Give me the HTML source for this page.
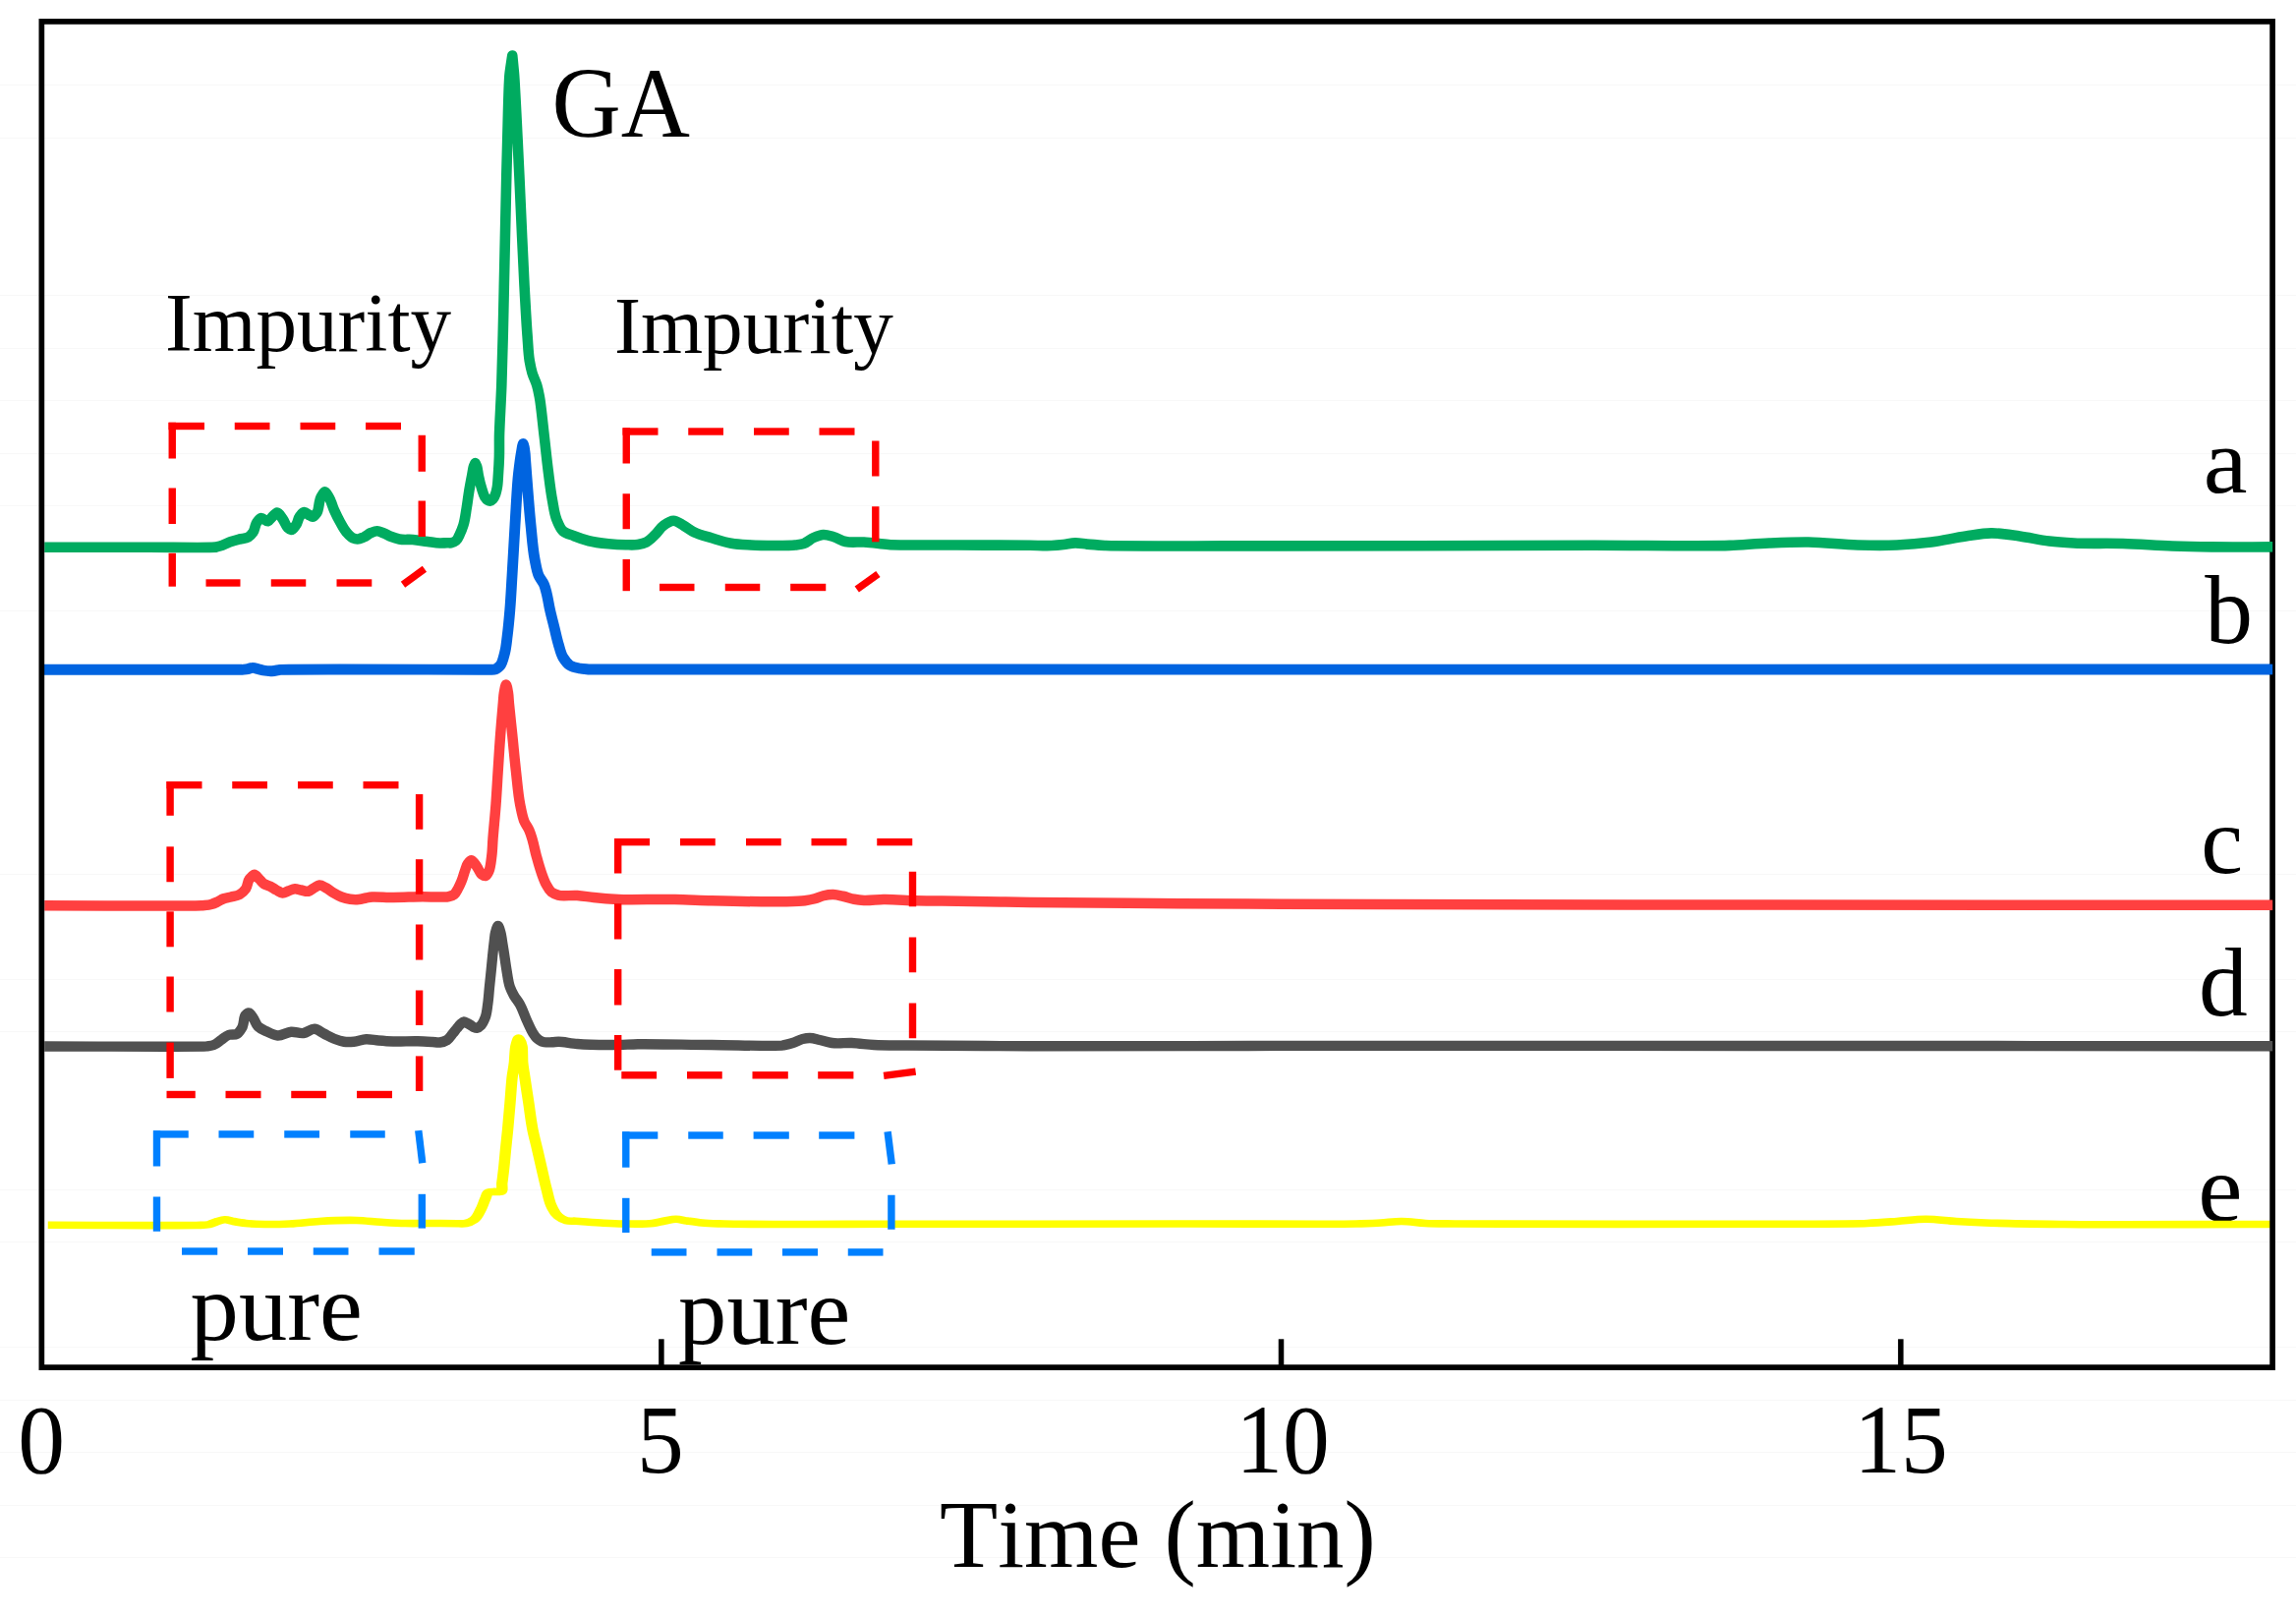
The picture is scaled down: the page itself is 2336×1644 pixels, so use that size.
<!DOCTYPE html>
<html><head><meta charset="utf-8"><title>HPLC chromatograms</title>
<style>
html,body{margin:0;padding:0;background:#fff;}
body{width:2336px;height:1644px;overflow:hidden;}
svg{display:block;}
text{font-family:"Liberation Serif","Times New Roman",serif;fill:#000;font-kerning:none;}
</style></head><body>
<svg width="2336" height="1644" viewBox="0 0 2336 1644">
<rect x="0" y="0" width="2336" height="1644" fill="#ffffff"/>
<g id="grid"><rect x="0" y="86.0" width="2336" height="1" fill="#f8f8f8"/>
<rect x="0" y="140.0" width="2336" height="1" fill="#f8f8f8"/>
<rect x="0" y="300.0" width="2336" height="1" fill="#f8f8f8"/>
<rect x="0" y="354.0" width="2336" height="1" fill="#f8f8f8"/>
<rect x="0" y="407.0" width="2336" height="1" fill="#f8f8f8"/>
<rect x="0" y="461.0" width="2336" height="1" fill="#f8f8f8"/>
<rect x="0" y="514.0" width="2336" height="1" fill="#f8f8f8"/>
<rect x="0" y="621.0" width="2336" height="1" fill="#f8f8f8"/>
<rect x="0" y="889.0" width="2336" height="1" fill="#f8f8f8"/>
<rect x="0" y="996.0" width="2336" height="1" fill="#f8f8f8"/>
<rect x="0" y="1049.0" width="2336" height="1" fill="#f8f8f8"/>
<rect x="0" y="1210.0" width="2336" height="1" fill="#f8f8f8"/>
<rect x="0" y="1263.0" width="2336" height="1" fill="#f8f8f8"/>
<rect x="0" y="1370.0" width="2336" height="1" fill="#f8f8f8"/>
<rect x="0" y="1424.0" width="2336" height="1" fill="#f8f8f8"/>
<rect x="0" y="1477.0" width="2336" height="1" fill="#f8f8f8"/>
<rect x="0" y="1531.0" width="2336" height="1" fill="#f8f8f8"/>
<rect x="0" y="1584.0" width="2336" height="1" fill="#f8f8f8"/></g>
<g id="masks"></g>
<g id="ticks"><rect x="670.15" y="1362.3" width="5.5" height="27" fill="#000"/>
<rect x="1300.75" y="1362.3" width="5.5" height="27" fill="#000"/>
<rect x="1931.10" y="1362.3" width="5.5" height="27" fill="#000"/></g>
<g id="texts"><text transform="translate(561.40,138.80) scale(0.9680,1)" font-size="100.50px" text-anchor="start">GA</text>
<text transform="translate(168.00,357.10) scale(0.9880,1)" font-size="84.20px" text-anchor="start">Impurity</text>
<text transform="translate(624.90,359.00) scale(0.9900,1)" font-size="82.00px" text-anchor="start">Impurity</text>
<text transform="translate(193.60,1362.50) scale(1.0220,1)" font-size="96.50px" text-anchor="start">pure</text>
<text transform="translate(690.10,1367.00) scale(1.0220,1)" font-size="96.50px" text-anchor="start">pure</text>
<text transform="translate(2241.70,500.60) scale(1.0500,1)" font-size="96.00px" text-anchor="start">a</text>
<text transform="translate(2243.20,653.70) scale(0.9900,1)" font-size="98.50px" text-anchor="start">b</text>
<text transform="translate(2239.30,887.50) scale(1.0000,1)" font-size="96.30px" text-anchor="start">c</text>
<text transform="translate(2237.10,1033.30) scale(1.0000,1)" font-size="99.50px" text-anchor="start">d</text>
<text transform="translate(2236.30,1241.70) scale(1.0400,1)" font-size="98.00px" text-anchor="start">e</text>
<text transform="translate(42.10,1498.30) scale(0.9650,1)" font-size="99.00px" text-anchor="middle">0</text>
<text transform="translate(671.80,1498.30) scale(0.9650,1)" font-size="99.00px" text-anchor="middle">5</text>
<text transform="translate(1305.10,1498.30) scale(0.9650,1)" font-size="99.00px" text-anchor="middle">10</text>
<text transform="translate(1933.90,1498.30) scale(0.9650,1)" font-size="99.00px" text-anchor="middle">15</text>
<text transform="translate(956.00,1593.75) scale(0.9915,1)" font-size="97.70px" text-anchor="start">Time (min)</text></g>
<g id="boxes-under"></g>
<g id="curves"><g transform="scale(1.0000,1)"><path d="M45.25,556.75C80.17,556.75 115.08,556.82 150.00,556.75C173.33,556.70 216.66,557.36 220.00,556.50C222.09,555.97 224.21,555.44 226.25,554.75C229.25,553.73 232.01,552.06 235.00,551.00C237.85,549.99 240.81,549.25 243.75,548.50C246.65,547.76 250.03,547.98 252.50,546.50C254.44,545.34 256.17,543.38 257.50,541.50C259.51,538.66 259.39,534.15 261.25,531.50C262.41,529.84 263.88,527.45 265.50,527.00C267.52,526.44 270.44,530.68 272.50,530.25C274.39,529.85 275.75,526.83 277.50,525.25C278.95,523.94 280.59,521.63 282.00,521.50C284.01,521.32 285.87,525.52 287.50,527.75C289.47,530.45 290.75,534.93 292.50,536.50C293.59,537.48 295.07,538.90 296.25,539.00C298.10,539.15 299.90,535.88 301.25,534.00C303.07,531.47 303.11,527.72 305.00,525.25C306.23,523.64 307.86,521.14 309.50,521.00C311.04,520.87 312.79,523.08 314.50,524.00C315.65,524.62 316.92,525.74 318.00,525.75C319.71,525.77 321.29,523.08 322.50,521.50C324.44,518.97 324.41,510.02 326.25,506.50C327.40,504.30 329.06,500.29 330.50,500.25C331.97,500.21 333.70,504.31 335.00,506.50C337.08,510.01 338.17,514.91 340.00,519.00C341.90,523.25 343.96,527.45 346.25,531.50C348.18,534.92 349.95,538.56 352.50,541.50C354.34,543.62 356.33,546.13 358.75,547.25C360.26,547.95 362.10,548.50 363.75,548.50C365.86,548.50 368.01,547.36 370.00,546.50C372.66,545.35 374.82,543.09 377.50,542.00C379.49,541.19 381.68,540.22 383.75,540.25C385.84,540.28 387.96,541.47 390.00,542.25C392.57,543.23 394.94,544.74 397.50,545.75C400.34,546.86 403.28,547.91 406.25,548.50C410.71,549.39 415.43,548.62 420.00,549.00C425.02,549.41 430.00,550.37 435.00,551.00C439.16,551.52 443.51,552.41 447.50,552.50C449.99,552.56 452.87,552.26 455.00,552.25C456.33,552.25 457.72,552.52 459.00,552.30C460.76,551.99 462.64,551.10 464.00,550.00C465.99,548.39 466.83,545.41 468.00,543.00C469.40,540.11 470.54,537.06 471.50,534.00C473.04,529.11 473.75,522.69 474.70,517.00C475.69,511.12 476.32,505.18 477.30,499.30C478.26,493.52 479.76,485.84 480.50,482.00C480.96,479.60 481.20,476.87 481.90,474.80C482.34,473.50 482.95,471.01 483.50,471.00C484.05,470.99 484.73,473.50 485.20,474.80C485.94,476.88 486.19,480.75 486.80,483.70C487.77,488.38 488.92,493.34 490.30,497.60C491.16,500.27 491.94,503.60 493.20,505.50C493.99,506.69 494.80,508.08 496.00,508.80C496.76,509.26 497.78,509.75 498.60,509.70C499.69,509.63 500.77,508.45 501.60,507.60C502.89,506.27 503.52,504.27 504.20,502.50C504.99,500.43 505.38,498.18 505.80,496.00C506.48,492.50 506.67,486.67 507.00,482.00C507.41,476.24 507.72,470.47 507.90,464.70C508.11,457.81 507.89,450.90 508.00,444.00C508.18,432.96 509.68,409.34 510.30,392.00C510.90,375.34 511.28,358.67 511.70,342.00C512.12,325.33 512.43,308.67 512.80,292.00C513.17,275.33 513.53,258.67 513.90,242.00C514.50,215.33 515.21,176.49 516.20,143.75C516.89,120.83 517.41,84.89 518.60,75.00C519.34,68.82 520.37,62.67 521.25,56.50C521.83,62.67 522.47,68.83 523.00,75.00C523.85,84.87 525.54,120.83 526.70,143.75C528.35,176.49 529.94,215.33 531.20,242.00C531.99,258.67 532.70,275.34 533.60,292.00C534.50,308.67 535.57,328.66 536.60,342.00C537.24,350.34 537.58,360.29 538.75,367.00C539.48,371.20 540.29,375.42 541.50,379.50C542.76,383.76 544.99,387.74 546.25,392.00C547.46,396.08 548.18,400.32 549.00,404.50C550.31,411.19 552.21,430.83 553.75,444.00C555.12,455.66 556.25,467.35 557.75,479.00C559.04,489.02 560.11,499.09 562.00,509.00C563.28,515.71 563.88,522.76 566.50,529.00C568.14,532.92 569.73,537.53 572.75,540.25C575.64,542.86 580.19,543.74 584.00,545.25C588.90,547.18 593.91,548.97 599.00,550.25C605.51,551.89 612.30,552.58 619.00,553.25C624.81,553.83 630.66,554.18 636.50,554.25C640.66,554.30 644.93,554.70 649.00,554.00C651.97,553.49 655.10,552.84 657.75,551.50C661.10,549.81 663.73,546.65 666.50,544.00C669.60,541.03 671.81,536.96 675.25,534.50C678.20,532.39 681.92,529.75 685.25,529.75C688.58,529.75 692.01,532.75 695.25,534.50C699.13,536.59 702.56,539.57 706.50,541.50C711.97,544.19 718.13,545.47 724.00,547.25C730.61,549.26 737.22,551.54 744.00,552.75C750.56,553.92 757.33,554.10 764.00,554.50C774.68,555.15 804.32,555.17 809.00,554.50C811.92,554.08 815.00,553.94 817.75,553.00C821.37,551.76 824.21,548.53 827.75,547.00C830.92,545.63 834.38,544.15 837.75,544.00C841.05,543.85 844.49,545.08 847.75,546.00C852.05,547.22 855.95,549.98 860.25,551.00C866.24,552.42 872.76,551.14 879.00,551.50C887.36,551.98 895.66,553.37 904.00,554.00C917.35,555.01 950.67,554.38 974.00,554.50C998.67,554.63 1036.27,554.64 1048.00,554.75C1055.33,554.82 1063.59,555.32 1070.00,555.00C1074.00,554.80 1078.01,554.43 1082.00,554.00C1086.01,553.57 1089.99,552.47 1094.00,552.40C1097.99,552.34 1102.00,553.24 1106.00,553.60C1112.32,554.17 1118.66,554.58 1125.00,555.00C1135.14,555.68 1241.67,555.35 1300.00,555.40C1393.33,555.48 1548.40,554.80 1622.00,554.80C1668.00,554.80 1738.66,555.89 1760.00,554.90C1773.34,554.28 1786.66,553.07 1800.00,552.50C1813.32,551.93 1826.68,551.33 1840.00,551.50C1856.68,551.71 1873.32,554.06 1890.00,554.50C1903.32,554.85 1916.69,555.11 1930.00,554.50C1941.69,553.97 1953.40,552.99 1965.00,551.50C1976.73,550.00 1988.28,547.16 2000.00,545.50C2008.64,544.28 2017.33,542.51 2026.00,542.40C2035.66,542.28 2045.37,544.19 2055.00,545.50C2065.04,546.87 2074.94,549.30 2085.00,550.50C2093.29,551.49 2101.66,552.03 2110.00,552.50C2123.35,553.26 2143.34,552.50 2160.00,553.00C2176.68,553.50 2193.32,554.92 2210.00,555.50C2223.33,555.96 2236.67,556.22 2250.00,556.40C2270.80,556.69 2291.60,556.40 2312.40,556.40" fill="none" stroke="#00AB60" stroke-width="10.60" stroke-linecap="butt" stroke-linejoin="round"/></g>
<g transform="scale(1.0000,1)"><path d="M45.00,681.20C112.00,681.23 242.80,681.66 246.00,681.30C248.00,681.07 250.02,680.96 252.00,680.60C253.68,680.29 255.33,679.45 257.00,679.40C258.99,679.34 261.01,680.22 263.00,680.70C264.67,681.10 266.31,681.68 268.00,682.00C270.70,682.52 273.75,682.82 276.60,682.70C279.41,682.58 282.20,681.75 285.00,681.30C289.48,680.58 493.27,681.41 497.00,681.20C499.33,681.07 501.92,681.61 504.00,680.80C505.87,680.08 507.64,678.49 509.00,677.00C511.18,674.62 512.44,668.43 513.60,664.00C515.08,658.35 515.45,652.41 516.20,646.60C517.32,637.96 518.07,629.28 518.80,620.60C519.77,609.09 520.29,597.53 521.00,586.00C522.06,568.67 522.92,551.33 524.00,534.00C525.08,516.66 526.14,493.76 527.50,482.00C528.35,474.65 529.63,464.55 530.50,460.00C531.04,457.16 531.72,451.49 532.30,451.50C532.88,451.51 533.62,457.14 534.00,460.00C534.36,462.65 534.40,465.33 534.60,468.00C534.92,472.27 536.15,488.87 537.00,499.30C537.94,510.87 538.83,522.45 540.00,534.00C541.17,545.55 542.11,559.25 544.00,568.60C545.18,574.45 546.06,581.19 548.30,586.00C549.70,589.01 552.17,591.55 553.50,594.60C554.70,597.35 555.32,600.38 556.10,603.30C557.34,607.98 558.31,614.86 559.60,620.60C560.91,626.43 562.46,632.20 563.90,638.00C565.33,643.77 566.47,649.62 568.20,655.30C569.61,659.92 570.48,664.97 573.00,669.00C574.84,671.95 577.13,675.17 580.00,677.00C582.82,678.80 586.60,679.33 590.00,680.00C593.27,680.64 596.67,680.67 600.00,681.00C605.33,681.53 1741.60,681.00 2312.40,681.00" fill="none" stroke="#0064E0" stroke-width="10.90" stroke-linecap="butt" stroke-linejoin="round"/></g>
<g transform="scale(1.0000,1)"><path d="M45.25,921.25C98.50,921.25 199.66,921.88 205.00,921.25C208.33,920.86 211.80,920.91 215.00,920.00C217.14,919.39 219.21,918.43 221.25,917.50C223.38,916.52 225.32,915.07 227.50,914.25C229.88,913.35 232.51,913.14 235.00,912.50C237.94,911.74 241.19,911.46 243.75,910.00C246.14,908.63 248.40,906.49 250.00,904.25C252.01,901.43 251.64,897.00 253.75,894.25C255.08,892.52 257.08,889.75 258.75,889.75C260.42,889.75 262.12,892.71 263.75,894.25C265.46,895.87 266.82,897.99 268.75,899.25C270.59,900.45 272.99,900.76 275.00,901.75C277.17,902.82 279.11,904.35 281.25,905.50C283.28,906.59 285.37,908.41 287.50,908.50C289.54,908.59 291.65,906.96 293.75,906.25C295.82,905.55 297.89,904.36 300.00,904.25C302.05,904.14 304.16,905.11 306.25,905.50C308.74,905.96 311.42,907.21 313.75,906.75C315.99,906.31 317.87,904.16 320.00,903.00C321.64,902.11 323.30,900.64 325.00,900.50C327.04,900.33 329.26,901.99 331.25,903.00C333.92,904.35 336.17,906.47 338.75,908.00C341.57,909.67 344.45,911.36 347.50,912.50C350.30,913.55 353.29,914.34 356.25,914.75C359.12,915.15 362.11,915.27 365.00,915.00C367.52,914.77 369.99,913.95 372.50,913.50C374.58,913.13 376.66,912.75 378.75,912.50C382.09,912.11 392.92,912.98 400.00,913.00C410.00,913.03 420.67,912.25 430.00,912.25C435.83,912.25 442.70,912.58 447.50,912.50C450.50,912.45 453.63,912.91 456.50,912.20C458.39,911.73 460.50,911.14 462.00,910.00C463.83,908.61 464.81,906.08 466.00,904.00C467.35,901.64 468.46,899.12 469.50,896.60C470.91,893.16 471.71,889.49 473.00,886.00C473.93,883.48 474.48,880.44 476.00,878.50C476.95,877.28 478.33,875.30 479.50,875.30C480.67,875.30 481.96,877.33 483.00,878.50C484.55,880.26 485.53,882.50 486.80,884.50C487.86,886.17 488.48,888.40 490.00,889.50C491.10,890.29 492.88,891.19 494.00,891.00C495.60,890.73 496.56,887.76 497.50,886.00C499.01,883.18 499.64,875.77 500.30,870.60C501.03,864.88 501.07,859.06 501.50,853.30C502.19,844.08 503.63,830.18 504.50,818.60C505.36,807.08 505.95,795.53 506.70,784.00C507.45,772.43 508.13,760.86 509.00,749.30C509.87,737.76 511.38,720.14 511.90,714.70C512.22,711.30 512.30,707.85 512.90,704.50C513.39,701.77 514.23,696.40 514.90,696.40C515.57,696.40 516.42,701.77 516.90,704.50C517.49,707.85 517.49,711.30 517.80,714.70C518.30,720.14 520.22,737.76 521.40,749.30C522.58,760.86 523.60,772.45 524.90,784.00C526.20,795.55 527.25,809.25 529.20,818.60C530.42,824.45 531.49,831.23 533.60,836.00C534.92,838.98 537.07,841.61 538.40,844.60C539.64,847.39 540.49,850.37 541.40,853.30C542.86,857.98 544.13,864.87 545.70,870.60C547.30,876.44 548.84,882.31 550.90,888.00C552.37,892.06 553.68,896.26 555.80,900.00C557.29,902.63 558.71,905.66 561.00,907.50C562.98,909.10 565.73,910.01 568.20,910.80C572.15,912.06 580.96,910.57 587.30,911.00C592.89,911.38 598.42,912.42 604.00,913.00C612.31,913.86 620.66,914.54 629.00,915.00C642.35,915.74 667.34,914.61 686.50,915.00C699.00,915.25 711.50,915.92 724.00,916.25C744.00,916.78 780.66,917.59 794.00,917.25C802.33,917.04 813.64,917.07 819.00,916.25C822.35,915.74 825.73,915.15 829.00,914.25C831.97,913.44 834.76,911.95 837.75,911.25C841.00,910.48 844.43,909.92 847.75,910.00C851.10,910.08 854.45,911.03 857.75,911.75C861.54,912.57 865.20,914.03 869.00,914.75C872.29,915.37 875.66,915.78 879.00,916.00C884.34,916.35 892.33,915.11 899.00,915.00C909.67,914.83 920.66,915.96 931.50,916.25C945.66,916.63 959.83,916.56 974.00,916.75C996.67,917.06 1023.33,917.66 1048.00,918.00C1087.47,918.55 1149.33,918.89 1200.00,919.20C1266.67,919.61 1333.33,919.79 1400.00,920.00C1506.67,920.33 1666.67,920.37 1800.00,920.50C1970.80,920.66 2141.60,920.70 2312.40,920.80" fill="none" stroke="#FF4040" stroke-width="10.50" stroke-linecap="butt" stroke-linejoin="round"/></g>
<g transform="scale(1.0000,1)"><path d="M45.25,1064.50C100.17,1064.50 206.00,1065.26 210.00,1064.50C212.50,1064.02 215.17,1063.92 217.50,1063.00C220.24,1061.92 222.50,1059.67 225.00,1058.00C227.50,1056.33 229.76,1054.04 232.50,1053.00C235.19,1051.98 238.90,1053.16 241.25,1051.75C243.38,1050.48 244.96,1047.77 246.25,1045.50C248.31,1041.86 247.96,1034.55 249.50,1033.00C250.47,1032.03 251.91,1030.59 253.00,1030.50C254.70,1030.36 256.16,1033.72 257.50,1035.50C259.51,1038.16 260.21,1041.96 262.50,1044.25C264.79,1046.54 268.23,1047.80 271.25,1049.25C274.85,1050.98 278.70,1053.21 282.50,1053.50C287.01,1053.84 291.59,1050.08 296.25,1049.75C300.36,1049.46 304.71,1051.55 308.75,1051.00C312.62,1050.47 316.34,1046.50 320.00,1046.75C323.41,1046.98 326.67,1050.08 330.00,1051.75C333.33,1053.42 336.54,1055.39 340.00,1056.75C343.23,1058.02 346.59,1059.26 350.00,1059.75C353.26,1060.22 356.70,1060.04 360.00,1059.75C364.21,1059.38 368.30,1057.45 372.50,1057.25C376.64,1057.05 380.83,1058.15 385.00,1058.50C389.99,1058.92 395.00,1059.31 400.00,1059.50C408.01,1059.80 417.00,1059.03 425.00,1059.25C430.00,1059.39 436.00,1059.76 440.00,1060.00C442.50,1060.15 445.06,1060.80 447.50,1060.50C450.07,1060.18 452.86,1059.37 455.00,1058.00C457.49,1056.40 459.05,1053.37 461.00,1051.00C462.36,1049.35 463.63,1047.63 465.00,1046.00C466.14,1044.64 467.18,1043.17 468.50,1042.00C469.57,1041.06 470.75,1039.59 472.00,1039.50C473.10,1039.42 474.36,1040.44 475.50,1041.00C476.70,1041.60 477.86,1042.29 479.00,1043.00C480.02,1043.63 480.92,1044.52 482.00,1045.00C483.06,1045.47 484.34,1046.00 485.40,1045.90C486.91,1045.75 488.34,1044.15 489.50,1043.00C491.35,1041.16 492.63,1037.92 493.70,1035.20C495.41,1030.86 495.62,1025.96 496.30,1021.30C497.14,1015.57 497.42,1009.77 498.00,1004.00C498.59,998.20 499.21,992.40 499.80,986.60C500.38,980.83 500.88,975.06 501.50,969.30C501.91,965.53 502.32,961.76 502.80,958.00C503.20,954.83 503.23,951.55 504.10,948.50C504.73,946.27 505.83,942.00 506.70,942.00C507.57,942.00 508.62,946.28 509.30,948.50C510.23,951.56 510.46,954.83 511.00,958.00C511.64,961.76 512.21,965.53 512.80,969.30C513.70,975.06 514.41,980.85 515.40,986.60C516.40,992.42 517.07,999.28 518.80,1004.00C519.88,1006.95 521.26,1009.85 522.80,1012.60C524.51,1015.65 526.94,1018.29 528.70,1021.30C531.52,1026.12 533.54,1032.91 536.20,1038.60C538.12,1042.70 540.34,1047.93 542.20,1050.80C543.36,1052.60 544.47,1054.54 546.00,1056.00C547.44,1057.37 549.21,1058.62 551.00,1059.40C553.87,1060.65 557.86,1060.33 561.30,1060.30C563.60,1060.28 565.90,1059.85 568.20,1059.80C571.88,1059.72 580.92,1061.46 587.30,1062.00C597.51,1062.87 611.77,1063.08 624.00,1063.00C632.33,1062.94 640.67,1062.42 649.00,1062.25C662.33,1061.98 699.00,1062.79 724.00,1063.00C748.17,1063.20 791.15,1064.66 796.50,1063.50C799.85,1062.77 803.24,1062.05 806.50,1061.00C809.91,1059.90 813.03,1057.83 816.50,1057.00C818.93,1056.42 821.51,1055.98 824.00,1056.00C827.35,1056.03 830.68,1057.28 834.00,1058.00C838.19,1058.91 842.29,1060.39 846.50,1061.00C853.05,1061.95 859.85,1060.72 866.50,1061.00C874.02,1061.31 881.49,1062.55 889.00,1063.00C900.64,1063.69 912.33,1063.35 924.00,1063.50C942.67,1063.73 1006.67,1064.10 1048.00,1064.25C1114.13,1064.49 1216.00,1063.97 1300.00,1063.90C1407.33,1063.82 1514.67,1063.89 1622.00,1063.90C1793.73,1063.92 2082.27,1064.10 2312.40,1064.20" fill="none" stroke="#505050" stroke-width="10.40" stroke-linecap="butt" stroke-linejoin="round"/></g>
<g transform="scale(1.5000,1)"><path d="M32.50,1246.25C66.11,1246.33 128.89,1246.87 133.33,1246.50C136.11,1246.27 139.08,1246.62 141.67,1245.75C143.73,1245.06 145.47,1243.39 147.50,1242.50C149.11,1241.79 150.82,1240.83 152.50,1240.75C154.43,1240.66 156.38,1241.96 158.33,1242.50C161.09,1243.26 163.86,1244.01 166.67,1244.50C171.04,1245.26 175.55,1245.37 180.00,1245.50C185.55,1245.66 191.13,1245.40 196.67,1245.00C203.36,1244.51 209.98,1243.08 216.67,1242.50C224.97,1241.78 233.36,1241.11 241.67,1241.50C247.23,1241.76 252.77,1242.75 258.33,1243.25C263.88,1243.75 269.44,1244.29 275.00,1244.50C280.55,1244.71 286.11,1244.46 291.67,1244.50C297.78,1244.54 308.22,1244.68 310.00,1244.75C311.11,1244.79 312.23,1244.97 313.33,1244.90C314.25,1244.85 315.20,1244.75 316.07,1244.50C317.45,1244.11 320.06,1242.32 321.53,1240.80C323.90,1238.36 324.80,1234.09 326.07,1230.60C327.44,1226.83 328.27,1222.22 329.33,1219.00C330.00,1216.99 329.92,1213.95 331.47,1213.00C332.43,1212.41 334.04,1212.51 335.33,1212.40C336.77,1212.28 338.65,1212.87 339.67,1212.40C341.30,1211.65 340.26,1206.40 340.53,1203.40C340.95,1198.87 341.32,1194.34 341.67,1189.80C342.19,1182.97 342.54,1176.13 343.00,1169.30C343.45,1162.50 343.96,1155.70 344.40,1148.90C344.98,1139.84 345.48,1130.77 346.00,1121.70C346.52,1112.63 346.90,1101.82 347.53,1094.50C347.93,1089.93 348.62,1085.38 348.93,1080.80C349.13,1077.87 349.16,1074.93 349.33,1072.00C349.48,1069.50 349.50,1066.97 349.87,1064.50C350.30,1061.63 351.23,1056.01 351.93,1056.00C352.63,1055.99 353.68,1061.62 354.07,1064.50C354.40,1066.97 354.27,1069.50 354.33,1072.00C354.41,1074.93 354.33,1077.87 354.47,1080.80C354.68,1085.38 355.35,1089.93 355.80,1094.50C356.52,1101.81 357.62,1112.63 358.53,1121.70C359.44,1130.77 360.07,1139.87 361.27,1148.90C362.17,1155.72 363.41,1162.50 364.47,1169.30C365.52,1176.13 366.54,1182.97 367.60,1189.80C368.65,1196.60 369.58,1203.43 370.80,1210.20C371.86,1216.12 372.47,1222.69 374.33,1227.90C375.50,1231.16 376.46,1234.82 378.67,1237.40C380.15,1239.13 382.04,1241.03 384.13,1241.80C386.02,1242.50 388.36,1242.04 390.47,1242.20C393.84,1242.45 403.03,1243.70 409.33,1244.20C413.77,1244.55 418.22,1244.88 422.67,1245.00C429.33,1245.17 438.16,1245.46 442.67,1244.50C445.48,1243.90 448.20,1242.74 451.00,1242.00C453.48,1241.34 456.00,1240.25 458.50,1240.25C461.00,1240.25 463.49,1241.45 466.00,1242.00C469.32,1242.73 472.64,1243.51 476.00,1244.00C480.95,1244.72 486.00,1244.74 491.00,1245.00C499.00,1245.42 518.78,1245.42 532.67,1245.50C554.89,1245.63 577.11,1245.30 599.33,1245.25C632.44,1245.18 665.56,1245.29 698.67,1245.25C732.44,1245.21 766.22,1245.05 800.00,1245.00C840.00,1244.95 911.11,1245.47 920.00,1245.00C925.56,1244.71 931.12,1244.48 936.67,1244.00C941.30,1243.60 945.91,1242.50 950.53,1242.50C955.92,1242.49 961.27,1244.07 966.67,1244.50C973.31,1245.03 980.00,1244.85 986.67,1245.00C997.33,1245.25 1164.44,1245.61 1200.00,1245.30C1222.22,1245.10 1255.99,1245.35 1266.67,1244.50C1273.34,1243.97 1280.00,1243.21 1286.67,1242.50C1293.20,1241.81 1299.73,1240.33 1306.27,1240.30C1313.07,1240.27 1319.86,1241.88 1326.67,1242.50C1333.32,1243.11 1340.00,1243.59 1346.67,1244.00C1357.34,1244.66 1382.22,1245.14 1400.00,1245.50C1428.45,1246.08 1493.33,1245.50 1540.00,1245.50" fill="none" stroke="#FFFF00" stroke-width="7.60" stroke-linecap="butt" stroke-linejoin="round"/></g></g>
<g id="boxes-over"><rect x="171.50" y="429.80" width="36.50" height="7.40" fill="#FF0000"/>
<rect x="238.75" y="429.80" width="35.75" height="7.40" fill="#FF0000"/>
<rect x="305.50" y="429.80" width="35.75" height="7.40" fill="#FF0000"/>
<rect x="372.00" y="429.80" width="36.00" height="7.40" fill="#FF0000"/>
<rect x="425.55" y="442.75" width="7.40" height="37.00" fill="#FF0000"/>
<rect x="425.55" y="509.50" width="7.40" height="36.50" fill="#FF0000"/>
<rect x="171.55" y="429.75" width="7.40" height="36.75" fill="#FF0000"/>
<rect x="171.55" y="496.50" width="7.40" height="36.50" fill="#FF0000"/>
<rect x="171.55" y="562.75" width="7.40" height="33.95" fill="#FF0000"/>
<rect x="209.50" y="589.30" width="35.00" height="7.40" fill="#FF0000"/>
<rect x="275.75" y="589.30" width="35.50" height="7.40" fill="#FF0000"/>
<rect x="342.50" y="589.30" width="35.80" height="7.40" fill="#FF0000"/>
<line x1="431.90" y1="578.75" x2="410.00" y2="594.75" stroke="#FF0000" stroke-width="7.40"/>
<rect x="633.50" y="435.30" width="36.00" height="7.40" fill="#FF0000"/>
<rect x="700.25" y="435.30" width="35.75" height="7.40" fill="#FF0000"/>
<rect x="767.00" y="435.30" width="35.75" height="7.40" fill="#FF0000"/>
<rect x="833.50" y="435.30" width="36.00" height="7.40" fill="#FF0000"/>
<rect x="887.10" y="448.50" width="7.40" height="36.00" fill="#FF0000"/>
<rect x="887.10" y="515.25" width="7.40" height="36.05" fill="#FF0000"/>
<rect x="633.55" y="435.25" width="7.40" height="36.25" fill="#FF0000"/>
<rect x="633.55" y="502.25" width="7.40" height="36.00" fill="#FF0000"/>
<rect x="633.55" y="569.00" width="7.40" height="32.20" fill="#FF0000"/>
<rect x="671.00" y="593.80" width="35.50" height="7.40" fill="#FF0000"/>
<rect x="737.75" y="593.80" width="35.50" height="7.40" fill="#FF0000"/>
<rect x="804.20" y="593.80" width="36.05" height="7.40" fill="#FF0000"/>
<line x1="893.40" y1="583.90" x2="871.75" y2="599.50" stroke="#FF0000" stroke-width="7.40"/>
<rect x="169.50" y="794.90" width="36.00" height="7.40" fill="#FF0000"/>
<rect x="236.25" y="794.90" width="35.75" height="7.40" fill="#FF0000"/>
<rect x="303.00" y="794.90" width="35.75" height="7.40" fill="#FF0000"/>
<rect x="369.50" y="794.90" width="36.00" height="7.40" fill="#FF0000"/>
<rect x="422.90" y="808.00" width="7.40" height="35.75" fill="#FF0000"/>
<rect x="422.90" y="874.20" width="7.40" height="35.55" fill="#FF0000"/>
<rect x="422.90" y="940.50" width="7.40" height="36.00" fill="#FF0000"/>
<rect x="422.90" y="1007.50" width="7.40" height="35.50" fill="#FF0000"/>
<rect x="422.90" y="1074.40" width="7.40" height="35.60" fill="#FF0000"/>
<rect x="169.40" y="795.00" width="7.40" height="34.75" fill="#FF0000"/>
<rect x="169.40" y="861.30" width="7.40" height="35.95" fill="#FF0000"/>
<rect x="169.40" y="927.30" width="7.40" height="36.00" fill="#FF0000"/>
<rect x="169.40" y="993.50" width="7.40" height="36.00" fill="#FF0000"/>
<rect x="169.40" y="1060.60" width="7.40" height="36.30" fill="#FF0000"/>
<rect x="169.50" y="1109.80" width="29.25" height="7.40" fill="#FF0000"/>
<rect x="229.50" y="1109.80" width="36.00" height="7.40" fill="#FF0000"/>
<rect x="296.25" y="1109.80" width="35.75" height="7.40" fill="#FF0000"/>
<rect x="363.00" y="1109.80" width="36.00" height="7.40" fill="#FF0000"/>
<rect x="625.25" y="852.90" width="35.75" height="7.40" fill="#FF0000"/>
<rect x="692.00" y="852.90" width="35.75" height="7.40" fill="#FF0000"/>
<rect x="759.00" y="852.90" width="35.75" height="7.40" fill="#FF0000"/>
<rect x="825.50" y="852.90" width="36.00" height="7.40" fill="#FF0000"/>
<rect x="892.25" y="852.90" width="36.00" height="7.40" fill="#FF0000"/>
<rect x="924.80" y="886.75" width="7.40" height="35.50" fill="#FF0000"/>
<rect x="924.80" y="953.50" width="7.40" height="35.75" fill="#FF0000"/>
<rect x="924.80" y="1020.50" width="7.40" height="35.75" fill="#FF0000"/>
<rect x="625.00" y="853.00" width="7.40" height="35.50" fill="#FF0000"/>
<rect x="625.00" y="919.25" width="7.40" height="36.25" fill="#FF0000"/>
<rect x="625.00" y="986.00" width="7.40" height="36.50" fill="#FF0000"/>
<rect x="625.00" y="1053.00" width="7.40" height="35.70" fill="#FF0000"/>
<rect x="632.30" y="1090.10" width="35.80" height="7.40" fill="#FF0000"/>
<rect x="699.00" y="1090.10" width="35.75" height="7.40" fill="#FF0000"/>
<rect x="765.50" y="1090.10" width="36.30" height="7.40" fill="#FF0000"/>
<rect x="832.20" y="1090.10" width="36.20" height="7.40" fill="#FF0000"/>
<line x1="899.10" y1="1094.40" x2="931.60" y2="1090.10" stroke="#FF0000" stroke-width="7.40"/>
<rect x="156.00" y="1150.20" width="35.75" height="7.40" fill="#0080FF"/>
<rect x="222.50" y="1150.20" width="35.75" height="7.40" fill="#0080FF"/>
<rect x="289.25" y="1150.20" width="35.75" height="7.40" fill="#0080FF"/>
<rect x="356.25" y="1150.20" width="35.50" height="7.40" fill="#0080FF"/>
<line x1="425.75" y1="1150.10" x2="429.75" y2="1183.25" stroke="#0080FF" stroke-width="7.40"/>
<rect x="425.60" y="1214.80" width="7.40" height="34.80" fill="#0080FF"/>
<rect x="155.80" y="1150.25" width="7.40" height="36.25" fill="#0080FF"/>
<rect x="155.80" y="1217.50" width="7.40" height="35.25" fill="#0080FF"/>
<rect x="185.00" y="1269.30" width="36.25" height="7.40" fill="#0080FF"/>
<rect x="252.00" y="1269.30" width="36.00" height="7.40" fill="#0080FF"/>
<rect x="318.75" y="1269.30" width="35.75" height="7.40" fill="#0080FF"/>
<rect x="385.50" y="1269.30" width="36.25" height="7.40" fill="#0080FF"/>
<rect x="633.20" y="1151.30" width="36.10" height="7.40" fill="#0080FF"/>
<rect x="700.25" y="1151.30" width="35.50" height="7.40" fill="#0080FF"/>
<rect x="766.60" y="1151.30" width="36.20" height="7.40" fill="#0080FF"/>
<rect x="833.20" y="1151.30" width="36.20" height="7.40" fill="#0080FF"/>
<line x1="903.10" y1="1151.25" x2="907.25" y2="1184.40" stroke="#0080FF" stroke-width="7.40"/>
<rect x="903.20" y="1215.75" width="7.40" height="35.00" fill="#0080FF"/>
<rect x="633.10" y="1151.25" width="7.40" height="36.45" fill="#0080FF"/>
<rect x="633.10" y="1218.80" width="7.40" height="35.20" fill="#0080FF"/>
<rect x="662.75" y="1270.20" width="35.75" height="7.40" fill="#0080FF"/>
<rect x="729.50" y="1270.20" width="35.75" height="7.40" fill="#0080FF"/>
<rect x="796.00" y="1270.20" width="36.00" height="7.40" fill="#0080FF"/>
<rect x="862.75" y="1270.20" width="35.75" height="7.40" fill="#0080FF"/></g>
<rect x="42.35" y="21.90" width="2269.75" height="1369.20" fill="none" stroke="#000" stroke-width="5.70"/>
<g id="curve-ends"><rect x="2308.5" y="551.00" width="3.7" height="10.60" fill="#00AB60"/>
<rect x="2308.5" y="675.65" width="3.7" height="10.70" fill="#0064E0"/>
<rect x="2308.5" y="915.55" width="3.7" height="10.50" fill="#FF4040"/>
<rect x="2308.5" y="1059.00" width="3.7" height="10.40" fill="#505050"/></g>
</svg>
</body></html>
